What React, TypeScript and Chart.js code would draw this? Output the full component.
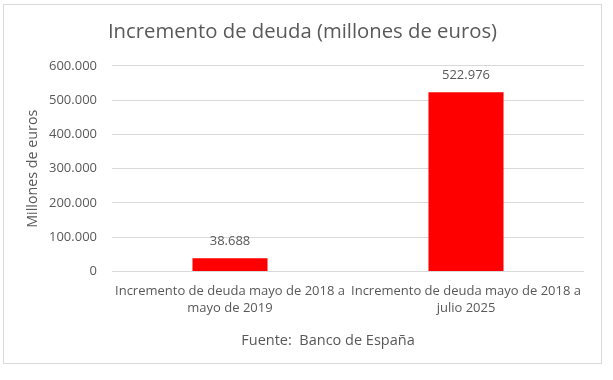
import React, { useEffect, useRef } from "react";
import { Chart, registerables } from "chart.js";

Chart.register(...registerables);

const categories: string[][] = [
  ["Incremento de deuda mayo de 2018 a", "mayo de 2019"],
  ["Incremento de deuda mayo de 2018 a", "julio 2025"],
];
const values: number[] = [38688, 522976];
const yTicks: number[] = [0, 100000, 200000, 300000, 400000, 500000, 600000];
const titleText = "Incremento de deuda (millones de euros)";
const yTitleText = "Millones de euros";
const sourceText = "Fuente:  Banco de España";

const FONT = "'Open Sans', Lato, sans-serif";
const TEXT = "#595959";

function fmt(n: number): string {
  return Math.round(n)
    .toString()
    .replace(/\B(?=(\d{3})+(?!\d))/g, ".");
}

const valueLabels = {
  id: "valueLabels",
  afterDatasetsDraw(chart: any) {
    const ctx = chart.ctx;
    const meta = chart.getDatasetMeta(0);
    ctx.save();
    ctx.fillStyle = TEXT;
    ctx.font = `13px ${FONT}`;
    ctx.textAlign = "center";
    ctx.textBaseline = "middle";
    meta.data.forEach((bar: any, i: number) => {
      ctx.fillText(fmt(values[i]), bar.x, bar.y - 17);
    });
    ctx.restore();
  },
};

const sourceNote = {
  id: "sourceNote",
  afterDraw(chart: any) {
    const ctx = chart.ctx;
    const area = chart.chartArea;
    ctx.save();
    ctx.fillStyle = TEXT;
    ctx.font = `14.5px ${FONT}`;
    ctx.textAlign = "center";
    ctx.textBaseline = "middle";
    ctx.fillText(sourceText, (area.left + area.right) / 2 - 20, area.bottom + 69);
    ctx.restore();
  },
};

export default function App() {
  const ref = useRef<HTMLCanvasElement | null>(null);

  useEffect(() => {
    if (!ref.current) return;
    const chart = new Chart(ref.current, {
      type: "bar",
      data: {
        labels: categories,
        datasets: [
          {
            data: values,
            backgroundColor: "#ff0000",
            borderWidth: 0,
            categoryPercentage: 1,
            barPercentage: 0.318,
          },
        ],
      },
      options: {
        animation: false,
        responsive: true,
        maintainAspectRatio: false,
        layout: { padding: { left: 17, right: 17, top: 0, bottom: 0 } },
        plugins: {
          legend: { display: false },
          tooltip: { enabled: false },
          title: {
            display: true,
            text: titleText,
            color: TEXT,
            font: { family: FONT, size: 20.3, weight: "normal", lineHeight: 1.2 },
            padding: { top: 14.8, bottom: 21.8 },
          },
        },
        scales: {
          x: {
            grid: { display: false, drawTicks: false },
            border: { display: false },
            ticks: {
              color: TEXT,
              font: { family: FONT, size: 13, lineHeight: 1.3 },
              padding: 11,
              maxRotation: 0,
              minRotation: 0,
              autoSkip: false,
            },
            afterFit(scale: any) {
              scale.height = 91.5;
            },
          },
          y: {
            min: 0,
            max: 600000,
            afterBuildTicks(scale: any) {
              scale.ticks = yTicks.map((v) => ({ value: v }));
            },
            grid: { color: "#d9d9d9", drawTicks: false, lineWidth: 1 },
            border: { display: false },
            ticks: {
              color: TEXT,
              font: { family: FONT, size: 13 },
              padding: 15,
              callback: (v: any) => fmt(Number(v)),
            },
            title: {
              display: true,
              text: yTitleText,
              color: TEXT,
              font: { family: FONT, size: 14.3, lineHeight: 1.2 },
              padding: { top: 3.4, bottom: 0 },
            },
            afterFit(scale: any) {
              scale.width = 91;
            },
          },
        },
      },
      plugins: [valueLabels, sourceNote],
    } as any);
    return () => chart.destroy();
  }, []);

  return (
    <div
      style={{
        position: "absolute",
        left: 0,
        top: 0,
        width: 613,
        height: 380,
        background: "#ffffff",
      }}
    >
      <div
        style={{
          position: "absolute",
          left: 3,
          top: 4,
          width: 597,
          height: 358,
          border: "1px solid #d9d9d9",
          background: "#ffffff",
        }}
      >
        <canvas ref={ref} />
      </div>
    </div>
  );
}
